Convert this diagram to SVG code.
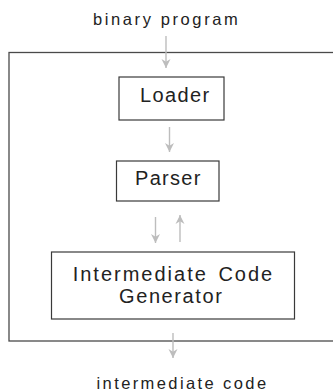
<svg xmlns="http://www.w3.org/2000/svg" width="333" height="392" viewBox="0 0 333 392">
<style>
.box{fill:#fff;stroke:#3a3a3a;stroke-width:1.2}
.lbl{font-family:"Liberation Sans",Arial,sans-serif;fill:#222}
.big{font-size:20px}
.small{font-size:16.5px}
.arr{stroke:#bdbdbd;stroke-width:1.4;fill:none;marker-end:url(#ah)}
</style>
<defs>
<marker id="ah" viewBox="0 0 10 10" refX="10" refY="5" markerWidth="9" markerHeight="10" markerUnits="userSpaceOnUse" orient="auto">
<path d="M0,0 L10,5 L0,10 L3,5 z" fill="#bdbdbd"/>
</marker>
</defs>
<g id="outer">
<rect x="9" y="52.5" width="330" height="288.5" fill="none" stroke="#4a4a4a" stroke-width="1.3"/>
</g>
<g id="input-label">
<text class="lbl small" x="93" y="24.5" letter-spacing="2.6">binary program</text>
</g>
<g id="loader">
<rect class="box" x="119" y="77" width="105" height="43"/>
<text class="lbl big" x="140" y="101.5" letter-spacing="1.4">Loader</text>
</g>
<g id="parser">
<rect class="box" x="116.5" y="161" width="102.5" height="40"/>
<text class="lbl big" x="135" y="185" letter-spacing="1.3">Parser</text>
</g>
<g id="icg">
<rect class="box" x="51.5" y="252" width="243" height="67"/>
<text class="lbl big" letter-spacing="2" word-spacing="3">
<tspan x="72.7" y="281">Intermediate Code</tspan>
<tspan x="119" y="303" letter-spacing="1.6">Generator</tspan>
</text>
</g>
<g id="output-label">
<text class="lbl small" x="96.5" y="389" letter-spacing="2.4">intermediate code</text>
</g>
<g id="connectors">
<line class="arr" x1="166" y1="36" x2="166" y2="68"/>
<line class="arr" x1="169.5" y1="127" x2="169.5" y2="152"/>
<line class="arr" x1="155.5" y1="217" x2="155.5" y2="243"/>
<line class="arr" x1="180" y1="242" x2="180" y2="215"/>
<line class="arr" x1="173" y1="333" x2="173" y2="358"/>
</g>
</svg>
